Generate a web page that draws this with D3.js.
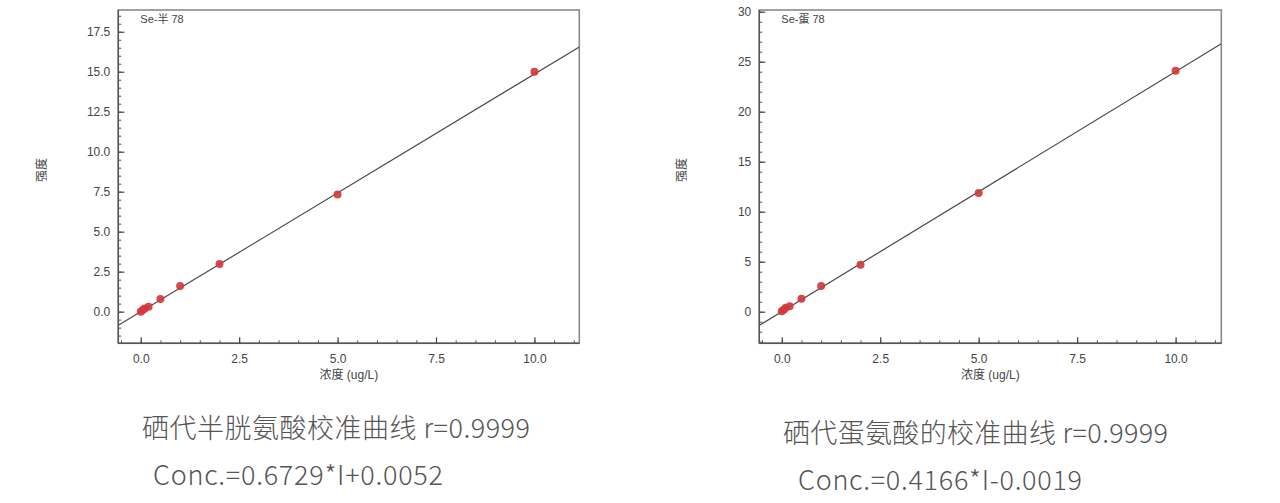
<!DOCTYPE html>
<html>
<head>
<meta charset="utf-8">
<script src="https://cdn.jsdelivr.net/npm/d3@7"></script>
<style>
  html, body { margin: 0; padding: 0; background: #fff; }
  svg { display: block; }
  .tick text { font-family: "Liberation Sans", Arial, sans-serif; font-size: 12px; fill: #444; }
</style>
</head>
<body>
<svg id="chart" width="1280" height="503"></svg>
<script>
// ---- Data ----
const xTickValues = [0, 2.5, 5, 7.5, 10];

// Se-半胱氨酸 (selenocystine)
const concCys = [0, 0.05, 0.1, 0.2, 0.5, 1, 2, 5, 10];
const intensityCys = [0.0, 0.1, 0.2, 0.3, 0.79, 1.6, 2.98, 7.32, 15.0];
const yTicksCys = [0, 2.5, 5, 7.5, 10, 12.5, 15, 17.5];
const fitCys = [0.6729, 0.0052]; // Conc = a*I + b
const labelCys = "Se-半 78";
const titleCys = "硒代半胱氨酸校准曲线 r=0.9999";
const eqCys = "Conc.=0.6729*I+0.0052";

// Se-蛋氨酸 (selenomethionine)
const concMet = [0, 0.05, 0.1, 0.2, 0.5, 1, 2, 5, 10];
const intensityMet = [0.05, 0.2, 0.4, 0.55, 1.3, 2.57, 4.7, 11.87, 24.1];
const yTicksMet = [0, 5, 10, 15, 20, 25, 30];
const fitMet = [0.4166, -0.0019];
const labelMet = "Se-蛋 78";
const titleMet = "硒代蛋氨酸的校准曲线 r=0.9999";
const eqMet = "Conc.=0.4166*I-0.0019";

const svg = d3.select("#chart");

function panel(cfg) {
  const x = d3.scaleLinear().domain(cfg.xDomain).range([cfg.x0, cfg.x1]);
  const y = d3.scaleLinear().domain(cfg.yDomain).range([cfg.y1, cfg.y0]);
  const g = svg.append("g");

  // frame (top/right)
  g.append("rect")
    .attr("x", cfg.x0).attr("y", cfg.y0)
    .attr("width", cfg.x1 - cfg.x0).attr("height", cfg.y1 - cfg.y0)
    .attr("fill", "none").attr("stroke", "#8a8a8a").attr("stroke-width", 1.6);

  // minor ticks
  const xMinor = d3.range(Math.ceil(cfg.xDomain[0] / 0.5) * 0.5, cfg.xDomain[1], 0.5);
  const yMinor = d3.range(Math.ceil(cfg.yDomain[0] / cfg.yMinorStep) * cfg.yMinorStep, cfg.yDomain[1], cfg.yMinorStep);

  g.append("g").attr("transform", `translate(0,${cfg.y1})`)
    .call(d3.axisBottom(x).tickValues(xMinor).tickSize(-3).tickFormat(""))
    .call(s => s.select(".domain").remove())
    .selectAll("line").attr("stroke", "#555");
  g.append("g").attr("transform", `translate(${cfg.x0},0)`)
    .call(d3.axisLeft(y).tickValues(yMinor).tickSize(-3).tickFormat(""))
    .call(s => s.select(".domain").remove())
    .selectAll("line").attr("stroke", "#555");

  // major axes
  const xa = g.append("g").attr("transform", `translate(0,${cfg.y1})`)
    .call(d3.axisBottom(x).tickValues(xTickValues).tickSize(-6).tickPadding(11).tickFormat(d3.format(".1f")));
  xa.select(".domain").remove();
  xa.selectAll("line").attr("stroke", "#444").attr("stroke-width", 1.2);

  const ya = g.append("g").attr("transform", `translate(${cfg.x0},0)`)
    .call(d3.axisLeft(y).tickValues(cfg.yTicks).tickSize(-6).tickPadding(8).tickFormat(cfg.yFormat));
  ya.select(".domain").remove();
  ya.selectAll("line").attr("stroke", "#444").attr("stroke-width", 1.2);

  // left and bottom axis lines
  g.append("line").attr("x1", cfg.x0).attr("x2", cfg.x0).attr("y1", cfg.y0).attr("y2", cfg.y1)
    .attr("stroke", "#555").attr("stroke-width", 1.4);
  g.append("line").attr("x1", cfg.x0).attr("x2", cfg.x1).attr("y1", cfg.y1).attr("y2", cfg.y1)
    .attr("stroke", "#555").attr("stroke-width", 1.4);

  // fit line: I = (C - b) / a
  const clip = "clip" + cfg.id;
  g.append("clipPath").attr("id", clip).append("rect")
    .attr("x", cfg.x0).attr("y", cfg.y0).attr("width", cfg.x1 - cfg.x0).attr("height", cfg.y1 - cfg.y0);
  const [a, b] = cfg.fit;
  const ends = cfg.xDomain.map(c => [c, (c - b) / a]);
  g.append("path").datum(ends)
    .attr("clip-path", `url(#${clip})`)
    .attr("d", d3.line().x(d => x(d[0])).y(d => y(d[1])))
    .attr("stroke", "#4a4a4a").attr("stroke-width", 1.2).attr("fill", "none");

  // points
  g.append("g").selectAll("circle").data(cfg.conc.map((c, i) => [c, cfg.intensity[i]]))
    .join("circle")
    .attr("cx", d => x(d[0])).attr("cy", d => y(d[1])).attr("r", 4)
    .attr("fill", "#d03a3c").attr("fill-opacity", 0.92);

  // inner label
  g.append("text").attr("x", cfg.x0 + 22).attr("y", cfg.y0 + 13)
    .attr("font-family", "'Liberation Sans', Arial, 'Noto Sans CJK SC', sans-serif")
    .attr("font-size", 11).attr("fill", "#444").text(cfg.label);

  // axis titles
  g.append("text").attr("x", (cfg.x0 + cfg.x1) / 2).attr("y", cfg.y1 + 36)
    .attr("text-anchor", "middle")
    .attr("font-family", "'Liberation Sans', Arial, 'Noto Sans CJK SC', sans-serif")
    .attr("font-size", 12).attr("fill", "#444").text("浓度 (ug/L)");
  g.append("text")
    .attr("transform", `translate(${cfg.yTitleX},170) rotate(-90)`)
    .attr("text-anchor", "middle").attr("dy", "0.35em")
    .attr("font-family", "'Noto Sans CJK SC', sans-serif")
    .attr("font-size", 12).attr("fill", "#444").text("强度");

  // captions
  g.append("text").attr("x", cfg.titleX).attr("y", cfg.titleY)
    .attr("font-family", "'Noto Sans CJK SC', sans-serif").attr("font-weight", 300)
    .attr("font-size", 27).attr("fill", "#555")
    .attr("textLength", cfg.titleW).attr("lengthAdjust", "spacing")
    .text(cfg.title);
  g.append("text").attr("x", cfg.eqX).attr("y", cfg.eqY)
    .attr("font-family", "'Noto Sans CJK SC', sans-serif").attr("font-weight", 300)
    .attr("font-size", 27).attr("fill", "#555")
    .attr("textLength", cfg.eqW).attr("lengthAdjust", "spacing")
    .text(cfg.eq);
}

panel({
  id: "L", x0: 118.3, x1: 579.3, y0: 10, y1: 343.3,
  xDomain: [-0.57, 11.14], yDomain: [-1.98, 18.86], yMinorStep: 0.5,
  yTicks: yTicksCys, yFormat: d3.format(".1f"),
  conc: concCys, intensity: intensityCys, fit: fitCys, label: labelCys,
  yTitleX: 42, title: titleCys, eq: eqCys,
  titleX: 142, titleY: 438, titleW: 388, eqX: 153, eqY: 485, eqW: 290
});

panel({
  id: "R", x0: 759.3, x1: 1221.3, y0: 10, y1: 343.3,
  xDomain: [-0.57, 11.16], yDomain: [-3.16, 30.17], yMinorStep: 1,
  yTicks: yTicksMet, yFormat: d3.format("d"),
  conc: concMet, intensity: intensityMet, fit: fitMet, label: labelMet,
  yTitleX: 682, title: titleMet, eq: eqMet,
  titleX: 783, titleY: 443, titleW: 385, eqX: 798, eqY: 490, eqW: 284
});
</script>
</body>
</html>
